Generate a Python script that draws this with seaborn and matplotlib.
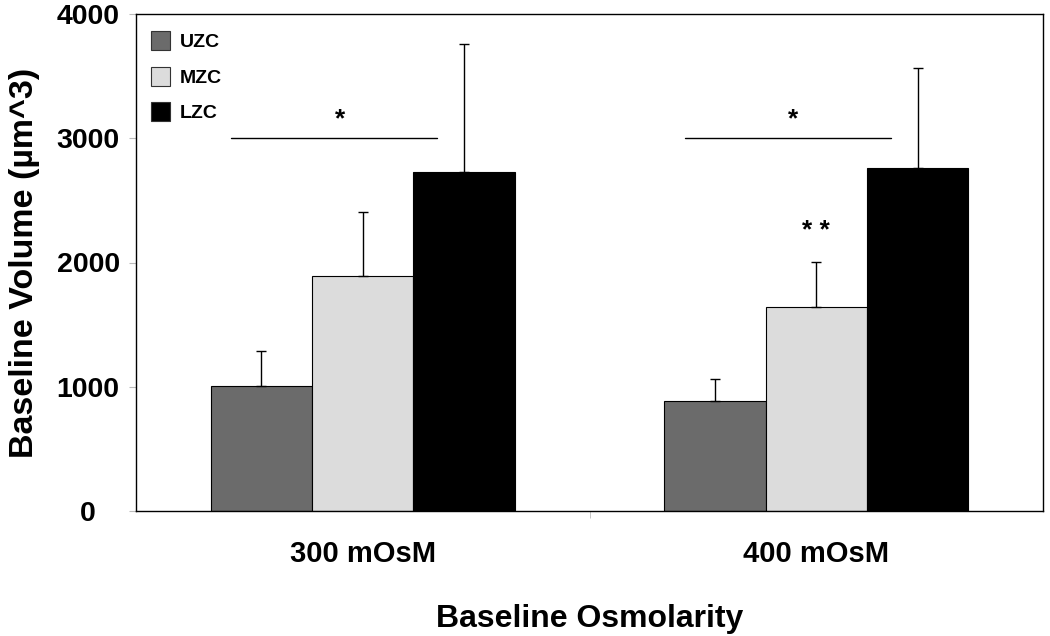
import numpy as np
import pandas as pd
import matplotlib
matplotlib.use("Agg")
import matplotlib.pyplot as plt
import seaborn as sns
from matplotlib.patches import Patch

# data
groups = ["300 mOsM", "400 mOsM"]
zones = ["UZC", "MZC", "LZC"]
uzc_mean = [1006, 885]
mzc_mean = [1891, 1642]
lzc_mean = [2728, 2760]
uzc_err = [282, 177]
mzc_err = [515, 362]
lzc_err = [1030, 805]
colors = ["#6b6b6b", "#dcdcdc", "#000000"]

means = [uzc_mean, mzc_mean, lzc_mean]
errs = [uzc_err, mzc_err, lzc_err]

df = pd.DataFrame({
    "group": groups * 3,
    "zone": [z for z in zones for _ in groups],
    "volume": uzc_mean + mzc_mean + lzc_mean,
})

sns.set_style("white")
plt.rcParams["font.family"] = ["Liberation Sans", "DejaVu Sans"]
plt.rcParams["font.weight"] = "bold"
plt.rcParams["text.color"] = "black"
plt.rcParams["axes.labelcolor"] = "black"

fig, ax = plt.subplots(figsize=(10.5, 6.36), dpi=100)
fig.subplots_adjust(left=136 / 1050, right=1043 / 1050, top=1 - 14 / 636, bottom=1 - 511 / 636)

sns.barplot(data=df, x="group", y="volume", hue="zone", order=groups, hue_order=zones,
            palette=colors, width=0.67, edgecolor="black", linewidth=0.8,
            saturation=1, errorbar=None, ax=ax, legend=False)

# upward-only error bars
for cont, m, e in zip(ax.containers, means, errs):
    xs = [b.get_x() + b.get_width() / 2 for b in cont]
    ax.errorbar(xs, m, yerr=[np.zeros(len(e)), e], fmt="none", ecolor="black",
                elinewidth=1, capsize=3.5, capthick=1)

# significance markers
for i in range(len(groups)):
    ax.plot([i - 0.29, i + 0.164], [3000, 3000], color="black", lw=1)
    ax.text(i - 0.05, 3150, "*", ha="center", va="center", fontsize=19)
ax.text(1, 2250, "* *", ha="center", va="center", fontsize=19)

ax.set_xlim(-0.5, 1.5)
ax.set_ylim(0, 4000)
ax.set_yticks([0, 1000, 2000, 3000, 4000])
ax.tick_params(axis="y", which="major", left=True, length=5, color="#bbbbbb",
               labelcolor="black", pad=29.5, labelsize=20.5)
ax.tick_params(axis="x", which="major", length=0, pad=21, labelsize=21, labelcolor="black")
ax.set_xticks([0.5], minor=True)
ax.tick_params(axis="x", which="minor", bottom=True, length=5, color="#bbbbbb")
for lab in ax.get_yticklabels():
    lab.set_fontweight("bold")
    lab.set_horizontalalignment("center")
for lab in ax.get_xticklabels():
    lab.set_fontweight("bold")

for s in ax.spines.values():
    s.set_color("black")
    s.set_linewidth(1)

ax.set_xlabel("Baseline Osmolarity", fontsize=23, fontweight="bold", labelpad=26)
ax.set_ylabel("Baseline Volume (\u00b5m^3)", fontsize=24.5, fontweight="bold", labelpad=12)

handles = [Patch(facecolor=c, edgecolor="#333333", linewidth=0.8) for c in colors]
ax.legend(handles, zones, loc="upper left", frameon=False,
          prop={"weight": "bold", "size": 14}, handlelength=1.0, handleheight=1.1,
          handletextpad=0.5, labelspacing=0.8, bbox_to_anchor=(-0.003, 1.0))

plt.savefig("out.png", dpi=100)
